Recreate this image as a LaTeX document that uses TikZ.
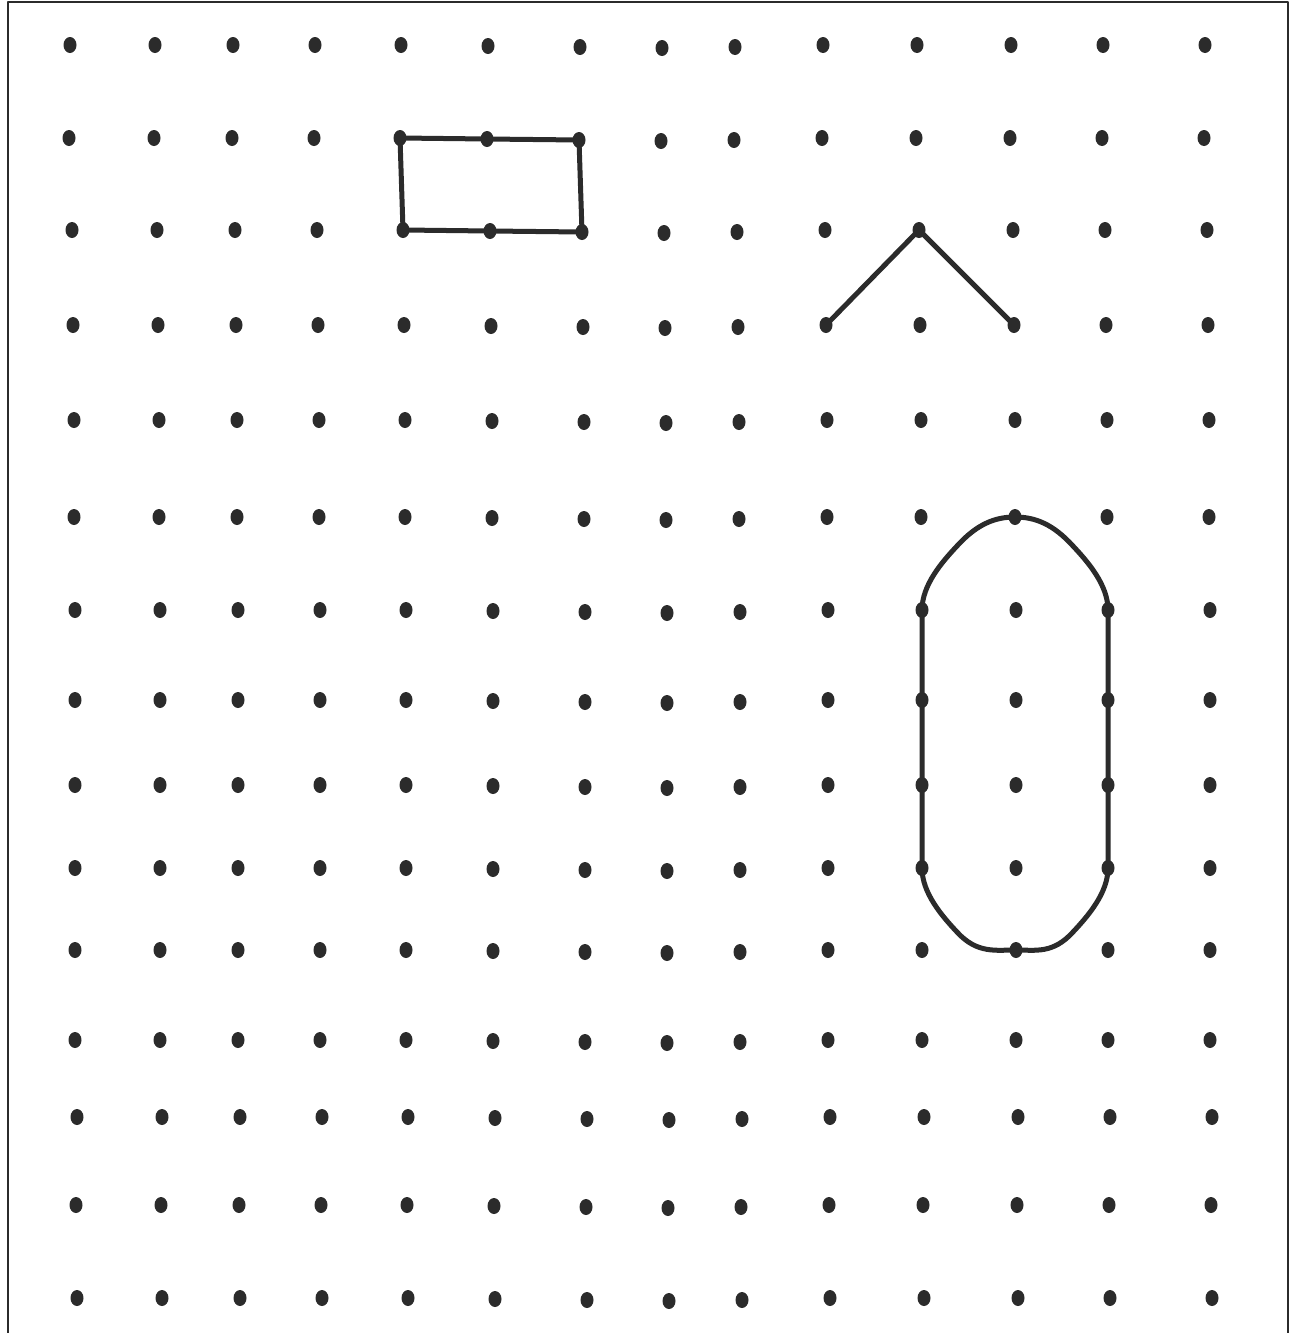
\documentclass[tikz,border=0pt]{standalone}
\usetikzlibrary{calc}
\definecolor{gridInk}{HTML}{2B2B2B}

\begin{document}
\begin{tikzpicture}[x=1pt,y=-1pt,line cap=round,line join=round]
\useasboundingbox[fill=white] (0,0) rectangle (1295,1333);
\tikzset{frameline/.style={draw=gridInk,line width=2.4pt},shapeline/.style={draw=gridInk,line width=5pt},dotfill/.style={fill=gridInk}}
\draw[frameline] (8,1333) -- (8,2) -- (1288,2) -- (1288,1333);
% dot grid: rows (y, drift) and columns (x, sag)
\foreach \y/\dx [count=\r from 0] in {45/-5,138/-6,230/-3,325/-2,420/-1,517/-1,610/0,700/0,785/0,868/0,950/0,1040/0,1117/2,1205/1,1298/2}
  \foreach \x/\dy [count=\c from 0] in {75/0,160/0,238/0,320/0,406/0,493/1,585/2,667/3,740/2,828/0,922/0,1016/0,1108/0,1210/0}
  {\coordinate (d-\r-\c) at (\x+\dx,\y+\dy);
   \fill[dotfill] (d-\r-\c) ellipse (6.5 and 8);}
% rectangle
\draw[shapeline] (d-1-4) -- (d-1-5) -- (d-1-6) -- (d-2-6) -- (d-2-5) -- (d-2-4) -- cycle;
% open angle
\draw[shapeline] (d-3-9) -- (d-2-10) -- (d-3-11);
% rounded oblong
\draw[shapeline] (d-9-10) -- (d-6-10)
  .. controls ($(d-6-10)+(0,-25)$) and ($(d-6-10)+(20,-48)$) .. ($(d-6-10)+(35,-64)$)
  .. controls ($(d-6-10)+(55,-86)$) and ($(d-5-11)+(-20,0)$) .. (d-5-11)
  .. controls ($(d-5-11)+(20,0)$) and ($(d-6-12)+(-55,-86)$) .. ($(d-6-12)+(-35,-64)$)
  .. controls ($(d-6-12)+(-20,-48)$) and ($(d-6-12)+(0,-25)$) .. (d-6-12)
  -- (d-9-12)
  .. controls ($(d-9-12)+(0,25)$) and ($(d-9-12)+(-20,48)$) .. ($(d-9-12)+(-35,64)$)
  .. controls ($(d-9-12)+(-55,86)$) and ($(d-10-11)+(20,0)$) .. (d-10-11)
  .. controls ($(d-10-11)+(-20,0)$) and ($(d-9-10)+(55,86)$) .. ($(d-9-10)+(35,64)$)
  .. controls ($(d-9-10)+(20,48)$) and ($(d-9-10)+(0,25)$) .. (d-9-10);
\end{tikzpicture}
\end{document}
